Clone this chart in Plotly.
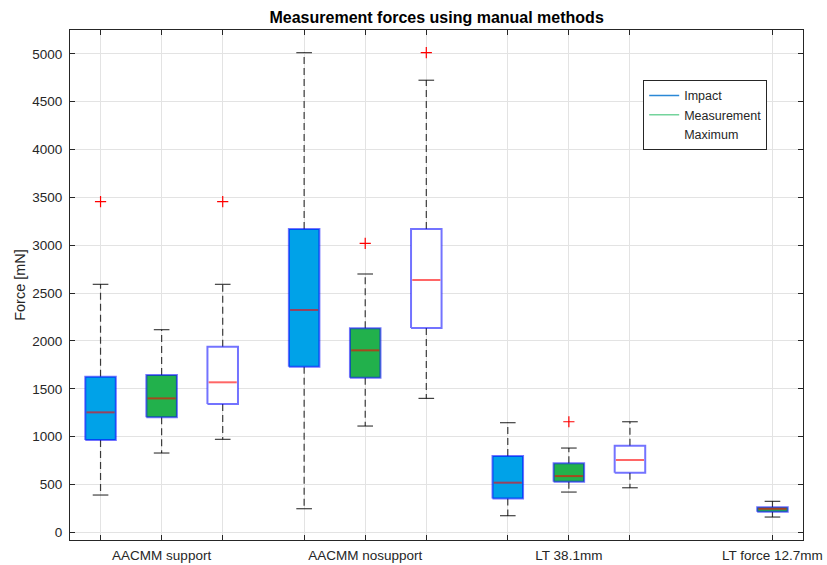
import plotly.graph_objects as go

# Box statistics (force in mN) for each measurement group
categories = ["AACMM support", "AACMM nosupport", "LT 38.1mm", "LT force 12.7mm"]
positions = [1, 2, 3, 4.333, 5.333, 6.333, 7.667, 8.667, 9.667, 12]
kinds = ["Impact", "Measurement", "Maximum",
         "Impact", "Measurement", "Maximum",
         "Impact", "Measurement", "Maximum",
         "Measurement"]
lower_whisker = [390, 829, 972, 247, 1111, 1400, 174, 421, 466, 160]
q1 = [965, 1202, 1341, 1731, 1616, 2135, 355, 529, 623, 215]
median = [1254, 1400, 1568, 2324, 1902, 2637, 519, 588, 756, 246]
q3 = [1627, 1644, 1940, 3170, 2132, 3170, 798, 721, 905, 262]
upper_whisker = [2592, 2118, 2592, 5013, 2700, 4725, 1146, 881, 1156, 324]
outlier_x = [1, 3, 5.333, 6.333, 8.667]
outlier_y = [3456, 3456, 3021, 5013, 1156]

label_positions = [2, 5.333, 8.667, 12]

fills = {"Impact": "#00a2e8", "Measurement": "#22b14c", "Maximum": "#ffffff"}
legend_colors = {"Impact": "#2a88d6", "Measurement": "#74d49c", "Maximum": "rgba(255,255,255,0)"}

HALF = 0.25      # half box width
CAP = 0.128      # half whisker-cap width
EDGE = "rgba(0,0,255,0.55)"
MED = "rgba(255,0,0,0.6)"
WHISK = "rgba(0,0,0,0.75)"
TXT = "#262626"

fig = go.Figure()

for x, k, lo, a, m, b, hi in zip(positions, kinds, lower_whisker, q1, median, q3, upper_whisker):
    # dashed whiskers
    fig.add_trace(go.Scatter(
        x=[x, x, None, x, x], y=[b, hi, None, a, lo], mode="lines",
        line=dict(color=WHISK, width=1.2, dash="7px,4px"),
        showlegend=False, hoverinfo="skip"))
    # whisker caps
    fig.add_trace(go.Scatter(
        x=[x - CAP, x + CAP, None, x - CAP, x + CAP], y=[hi, hi, None, lo, lo],
        mode="lines", line=dict(color=WHISK, width=1.2),
        showlegend=False, hoverinfo="skip"))
    # box body
    fig.add_trace(go.Scatter(
        x=[x - HALF, x + HALF, x + HALF, x - HALF, x - HALF],
        y=[a, a, b, b, a], mode="lines", fill="toself",
        fillcolor=fills[k], line=dict(color=EDGE, width=2),
        showlegend=False, hoverinfo="skip"))
    # median
    fig.add_trace(go.Scatter(
        x=[x - HALF + 0.02, x + HALF - 0.02], y=[m, m], mode="lines",
        line=dict(color=MED, width=2), showlegend=False, hoverinfo="skip"))

# outliers
fig.add_trace(go.Scatter(
    x=outlier_x, y=outlier_y, mode="markers",
    marker=dict(symbol="cross-thin", size=8, line=dict(color="#ff0000", width=1.2)),
    showlegend=False, hoverinfo="skip"))

# legend entries
for name in ["Impact", "Measurement", "Maximum"]:
    fig.add_trace(go.Scatter(
        x=[None], y=[None], mode="lines", name=name,
        line=dict(color=legend_colors[name], width=1.5)))

ticktext = []
for p in positions:
    ticktext.append(next((c for c, lp in zip(categories, label_positions) if abs(lp - p) < 1e-6), ""))

fig.update_layout(
    width=827, height=565,
    margin=dict(l=70, r=24, t=30, b=25),
    paper_bgcolor="white", plot_bgcolor="white",
    font=dict(family="Liberation Sans, Arial, sans-serif", size=13, color=TXT),
    title=dict(text="<b>Measurement forces using manual methods</b>",
               x=0.528, xanchor="center", y=0.97, yanchor="middle",
               font=dict(size=16, color="#000000")),
    legend=dict(x=0.782, y=0.902, xanchor="left", yanchor="top",
                bgcolor="white", bordercolor=TXT, borderwidth=1,
                font=dict(size=12.5, color=TXT), itemwidth=30,
                tracegroupgap=0),
    xaxis=dict(range=[0.5, 12.5], tickmode="array", tickvals=positions, ticktext=ticktext,
               automargin=False,
               showgrid=True, gridcolor="#e3e3e3", gridwidth=1, zeroline=False,
               showline=True, linecolor=TXT, linewidth=1, mirror="ticks",
               ticks="inside", ticklen=5, tickcolor=TXT, ticklabelstandoff=3,
               tickfont=dict(size=13.5, color=TXT)),
    yaxis=dict(range=[-80, 5250], tickmode="array",
               tickvals=list(range(0, 5001, 500)),
               automargin=False,
               showgrid=True, gridcolor="#e3e3e3", gridwidth=1, zeroline=False,
               showline=True, linecolor=TXT, linewidth=1, mirror="ticks",
               ticks="inside", ticklen=5, tickcolor=TXT, ticklabelstandoff=4,
               tickfont=dict(size=13.5, color=TXT),
               title=dict(text="Force [mN]", font=dict(size=14.5, color=TXT), standoff=3)),
)

fig.write_html("out.html")
